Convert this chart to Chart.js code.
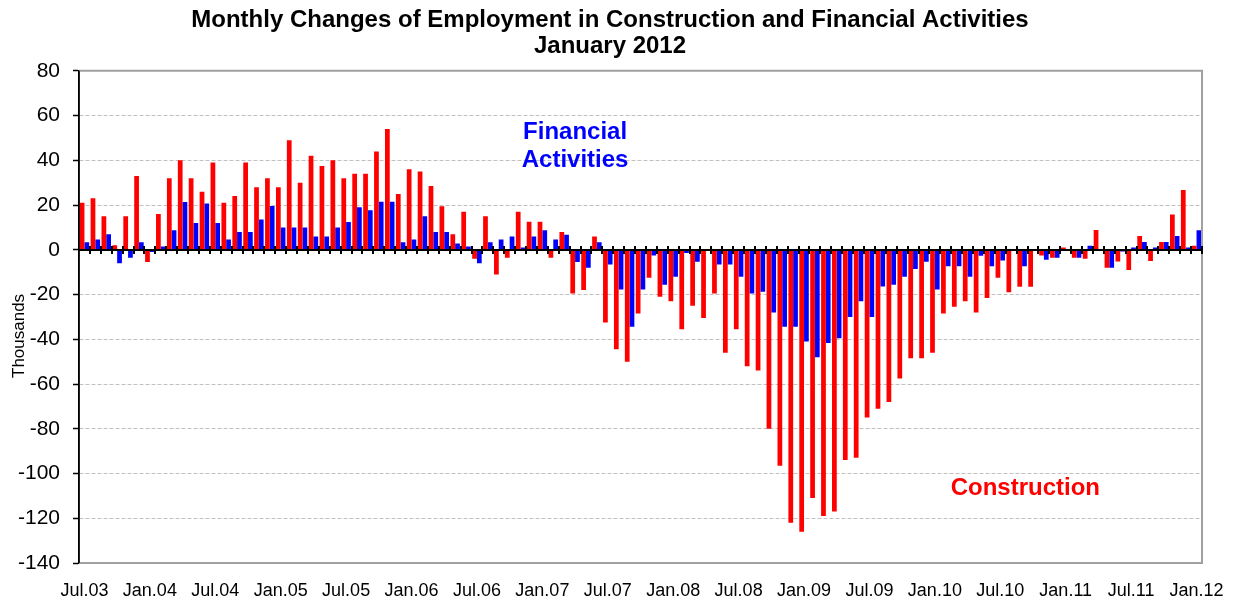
<!DOCTYPE html>
<html>
<head>
<meta charset="utf-8">
<title>Monthly Changes of Employment in Construction and Financial Activities</title>
<script src="https://cdn.jsdelivr.net/npm/chart.js@4/dist/chart.umd.min.js"></script>
<style>
  html, body { margin: 0; padding: 0; background: #fff; }
  #wrap { width: 1237px; height: 601px; }
</style>
</head>
<body>
<div id="wrap"><canvas id="bar-chart" width="1237" height="601"></canvas></div>
<script>
// months, Jul.03 .. Jan.12
const months = [
  'Jul.03', 'Aug.03', 'Sep.03', 'Oct.03', 'Nov.03', 'Dec.03',
  'Jan.04', 'Feb.04', 'Mar.04', 'Apr.04', 'May.04', 'Jun.04', 'Jul.04', 'Aug.04', 'Sep.04', 'Oct.04', 'Nov.04', 'Dec.04',
  'Jan.05', 'Feb.05', 'Mar.05', 'Apr.05', 'May.05', 'Jun.05', 'Jul.05', 'Aug.05', 'Sep.05', 'Oct.05', 'Nov.05', 'Dec.05',
  'Jan.06', 'Feb.06', 'Mar.06', 'Apr.06', 'May.06', 'Jun.06', 'Jul.06', 'Aug.06', 'Sep.06', 'Oct.06', 'Nov.06', 'Dec.06',
  'Jan.07', 'Feb.07', 'Mar.07', 'Apr.07', 'May.07', 'Jun.07', 'Jul.07', 'Aug.07', 'Sep.07', 'Oct.07', 'Nov.07', 'Dec.07',
  'Jan.08', 'Feb.08', 'Mar.08', 'Apr.08', 'May.08', 'Jun.08', 'Jul.08', 'Aug.08', 'Sep.08', 'Oct.08', 'Nov.08', 'Dec.08',
  'Jan.09', 'Feb.09', 'Mar.09', 'Apr.09', 'May.09', 'Jun.09', 'Jul.09', 'Aug.09', 'Sep.09', 'Oct.09', 'Nov.09', 'Dec.09',
  'Jan.10', 'Feb.10', 'Mar.10', 'Apr.10', 'May.10', 'Jun.10', 'Jul.10', 'Aug.10', 'Sep.10', 'Oct.10', 'Nov.10', 'Dec.10',
  'Jan.11', 'Feb.11', 'Mar.11', 'Apr.11', 'May.11', 'Jun.11', 'Jul.11', 'Aug.11', 'Sep.11', 'Oct.11', 'Nov.11', 'Dec.11',
  'Jan.12'
];

// only these get a label on the x axis
const tickLabels = ['Jul.03', 'Jan.04', 'Jul.04', 'Jan.05', 'Jul.05', 'Jan.06', 'Jul.06', 'Jan.07', 'Jul.07',
  'Jan.08', 'Jul.08', 'Jan.09', 'Jul.09', 'Jan.10', 'Jul.10', 'Jan.11', 'Jul.11', 'Jan.12'];

// thousands of jobs, month over month
const construction = [
  21, 23, 15, 2, 15, 33,
  -5.5, 16, 32, 40, 32, 26, 39, 21, 24, 39, 28, 32,
  28, 49, 30, 42, 37.5, 40, 32, 34, 34, 44, 54, 25,
  36, 35, 28.5, 19.5, 7, 17, -4, 15, -11, -3.5, 17, 12.5,
  12.5, -3.5, 8, -19.5, -18, 6, -32.5, -44.5, -50, -28.5, -12.5, -21,
  -23, -35.5, -25, -30.5, -19.5, -46, -35.5, -52, -54, -80, -96.5, -122,
  -126, -111, -119, -117, -94, -93, -75, -71, -68, -57.5, -48.5, -48.5,
  -46, -28.5, -25.5, -23, -28, -21.5, -12.5, -19, -16.5, -16.5, -2.5, -3.6,
  1, -3.5, -4, 8.8, -8, -5.2, -9, 6.2, -5, 3.5, 15.8, 26.7,
  1.8
];

const financial = [
  3.4, 4.6, 7, -6, -3.5, 3.4,
  -1, 1.5, 8.7, 21.4, 12, 20.7, 12, 4.6, 8, 8, 13.6, 19.6,
  10, 10, 10, 6, 6, 10, 12.4, 19, 17.7, 21.5, 21.5, 3.4,
  4.6, 15, 8, 8, 2.8, 1.5, -6, 3.4, 4.6, 6, 1, 6,
  8.7, 4.6, 6.7, -5.5, -8, 3.4, -6.6, -17.7, -34.4, -17.7, -2.6, -15.6,
  -12, -1.4, -5.3, -0.3, -6.6, -6.6, -12, -19.5, -18.8, -28, -34.4, -34.4,
  -41, -48, -41.7, -39.5, -30, -23, -30, -16.4, -15.6, -12, -8.6, -5.3,
  -17.7, -7.4, -7.4, -12, -2.7, -7.4, -4.8, -0.3, -7.4, 0, -4.5, -3.6,
  0, -3.5, 1.8, 0, -8, -0.8, 1, 3.5, 1, 3.5, 6.2, 1,
  8.7
];

const titleLines = ['Monthly Changes of Employment in Construction and Financial Activities', 'January 2012'];

// series names written inside the plot, placed at (month index, value)
const seriesNotes = [
  { text: 'Financial', month: 45, value: 52.3, color: '#0000ff' },
  { text: 'Activities', month: 45, value: 40.1, color: '#0000ff' },
  { text: 'Construction', month: 86.3, value: -106.8, color: '#ff0000' }
];

const FONT = '"Liberation Sans", Arial, Helvetica, sans-serif';

// zero line with month ticks, plot frame, series notes, axis title
const framePlugin = {
  id: 'frame',
  afterDatasetsDraw(chart) {
    const { ctx, chartArea: a, scales: { x, y } } = chart;
    ctx.save();

    ctx.strokeStyle = '#a0a0a0';
    ctx.lineWidth = 2;
    ctx.beginPath();
    ctx.moveTo(a.left, a.top);
    ctx.lineTo(a.right, a.top);
    ctx.lineTo(a.right, a.bottom);
    ctx.lineTo(a.left, a.bottom);
    ctx.stroke();

    const y0 = Math.round(y.getPixelForValue(0));
    ctx.strokeStyle = '#000';
    ctx.lineWidth = 2;
    ctx.beginPath();
    ctx.moveTo(a.left, y0);
    ctx.lineTo(a.right, y0);
    for (let i = 1; i <= months.length; i++) {
      const px = Math.round(x.getPixelForValue(i - 0.5));
      ctx.moveTo(px, y0 - 4);
      ctx.lineTo(px, y0 + 4);
    }
    ctx.stroke();

    ctx.lineWidth = 1.5;
    ctx.beginPath();
    ctx.moveTo(a.left, a.top);
    ctx.lineTo(a.left, a.bottom);
    ctx.stroke();

    ctx.font = 'bold 24px ' + FONT;
    ctx.textAlign = 'center';
    ctx.textBaseline = 'middle';
    seriesNotes.forEach(n => {
      ctx.fillStyle = n.color;
      ctx.fillText(n.text, x.getPixelForValue(n.month), y.getPixelForValue(n.value));
    });

    ctx.translate(19, y.getPixelForValue(-38.5));
    ctx.rotate(-Math.PI / 2);
    ctx.fillStyle = '#000';
    ctx.font = '17px ' + FONT;
    ctx.fillText('Thousands', 0, 0);

    ctx.restore();
  }
};

const ctx = document.getElementById('bar-chart').getContext('2d');

new Chart(ctx, {
  type: 'bar',
  data: {
    labels: months,
    datasets: [
      {
        label: 'Construction',
        data: construction,
        backgroundColor: '#ff0000',
        borderWidth: 0
      },
      {
        label: 'Financial Activities',
        data: financial,
        backgroundColor: '#0000ff',
        borderWidth: 0
      }
    ]
  },
  options: {
    responsive: false,
    animation: false,
    devicePixelRatio: 1,
    categoryPercentage: 0.87,
    barPercentage: 1.0,
    layout: {
      padding: { left: 18, right: 35, top: 0, bottom: 0 }
    },
    plugins: {
      legend: { display: false },
      tooltip: { enabled: false },
      title: {
        display: true,
        text: titleLines,
        color: '#000',
        font: { family: FONT, size: 24, weight: 'bold', lineHeight: 1.08 },
        padding: { top: 7, bottom: 12 }
      }
    },
    scales: {
      x: {
        grid: { display: false, drawTicks: false },
        border: { display: false },
        afterFit: function (scale) {
          scale.height = 38;
          scale.paddingLeft = 0;
          scale.paddingRight = 0;
        },
        ticks: {
          autoSkip: false,
          maxRotation: 0,
          minRotation: 0,
          padding: 17,
          color: '#000',
          font: { family: FONT, size: 18 },
          callback: function (value, index) {
            const m = months[index];
            return tickLabels.includes(m) ? m : '';
          }
        }
      },
      y: {
        min: -140,
        max: 80,
        afterFit: function (scale) { scale.width = 61; },
        ticks: {
          stepSize: 20,
          padding: 13,
          color: '#000',
          font: { family: FONT, size: 21 }
        },
        grid: {
          color: '#c0c0c0',
          lineWidth: 1,
          drawTicks: true,
          tickLength: 6,
          tickColor: '#000',
          tickWidth: 1.5
        },
        border: {
          display: true,
          color: '#000',
          width: 1.5,
          dash: [4, 2]
        }
      }
    }
  },
  plugins: [framePlugin]
});
</script>
</body>
</html>
